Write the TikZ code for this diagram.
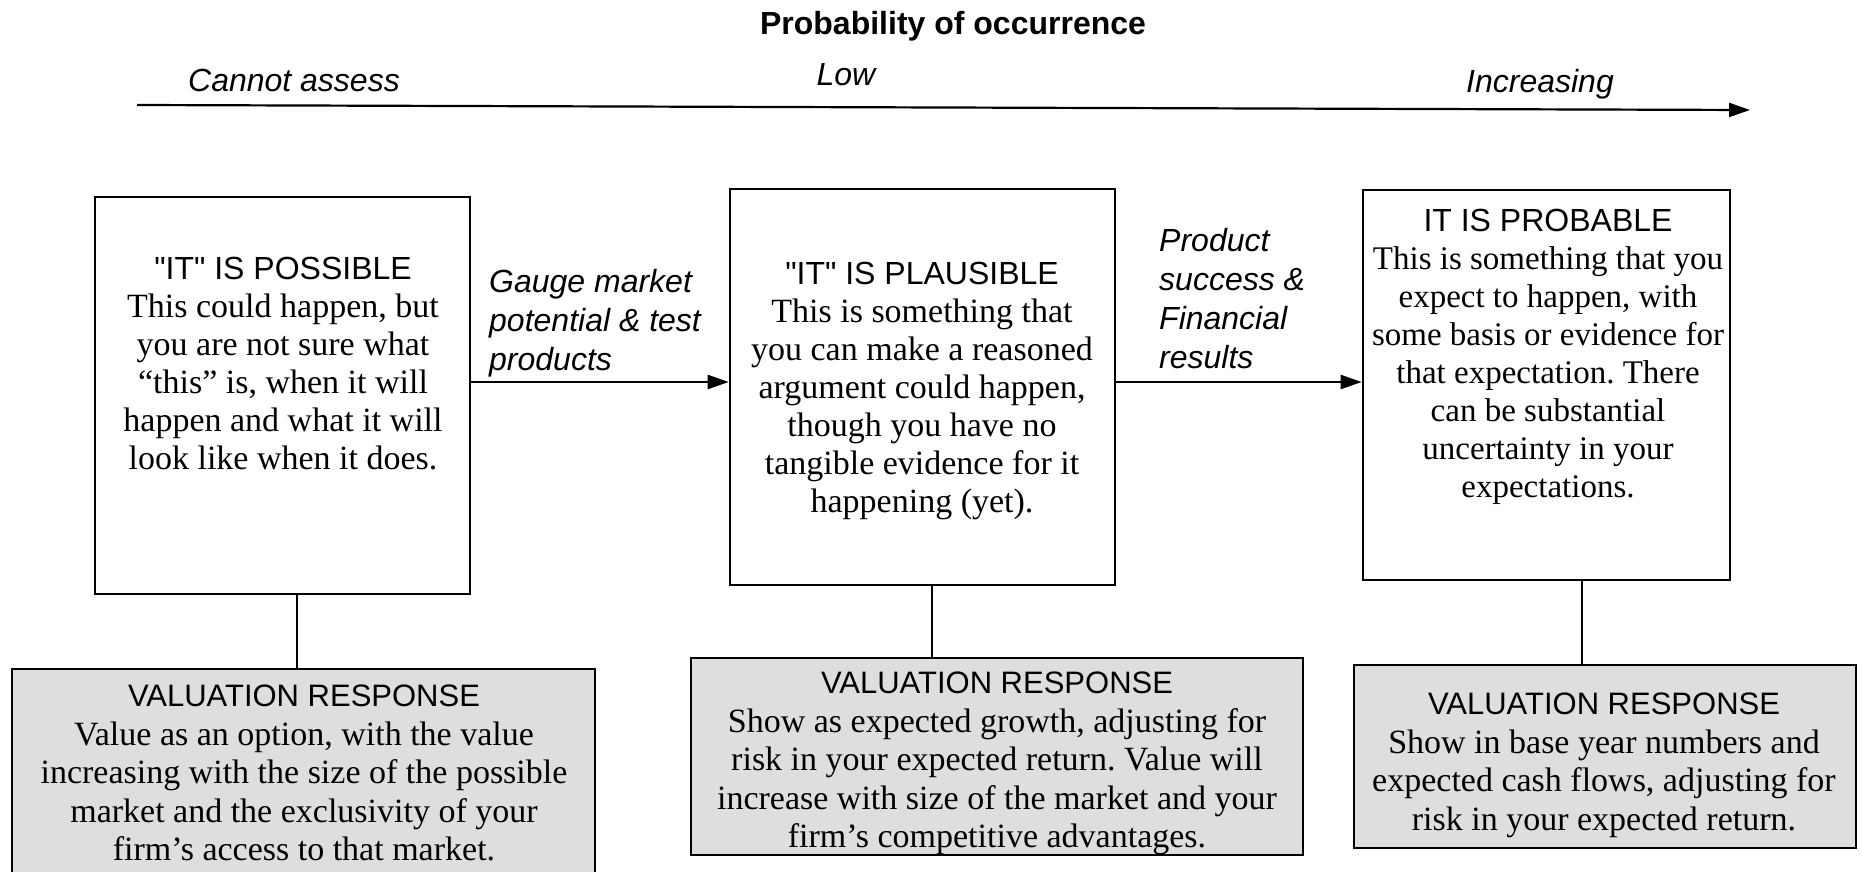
\documentclass[tikz,border=0pt]{standalone}
\usepackage{fontspec}
\setmainfont{Liberation Serif}
\setsansfont{Liberation Sans}
\usetikzlibrary{arrows.meta}
\definecolor{vrgray}{RGB}{222,222,222}
\frenchspacing
\begin{document}
\begin{tikzpicture}[x=1pt,y=-1pt,
  box/.style={draw, line width=2.6pt, inner sep=0pt},
  vr/.style={box, fill=vrgray},
  body/.style={align=center, inner sep=0pt, anchor=north, font=\fontsize{34}{38}\selectfont},
  vbody/.style={align=center, inner sep=0pt, anchor=north, font=\fontsize{34}{38.5}\selectfont},
  lab/.style={align=left, inner sep=0pt, anchor=north west, font=\sffamily\itshape\fontsize{32}{39}\selectfont},
  axislab/.style={font=\sffamily\itshape\fontsize{32}{38}\selectfont, inner sep=0pt},
  arr/.style={line width=2.2pt, -{Triangle[length=21pt,width=14pt]}},
  link/.style={line width=2.2pt}]

\useasboundingbox (0,0) rectangle (1862,872);
\clip (0,0) rectangle (1862,872);

% title and axis
\node[font=\sffamily\bfseries\fontsize{32}{38}\selectfont, inner sep=0pt] (title) at (953,26) {Probability of occurrence};
\node[axislab] (cannot) at (294,80) {Cannot assess};
\node[axislab] (low) at (846,75) {Low};
\node[axislab] (incr) at (1540,84) {Increasing};
\coordinate (axL) at (137,105);
\coordinate (axR) at (1750,110);
\draw[arr] (axL) -- (axR);

% main boxes
\node[box, minimum width=375pt, minimum height=397pt] (b1) at (282.5,395.5) {};
\node[box, minimum width=385pt, minimum height=396pt] (b2) at (922.5,387) {};
\node[box, minimum width=367pt, minimum height=390pt] (b3) at (1546.5,385) {};

\node[body] (t1) at (283,257) {{\sffamily\fontsize{32}{38}\selectfont \textquotedbl IT\textquotedbl{} IS POSSIBLE}\\
This could happen, but\\
you are not sure what\\
“this” is, when it will\\
happen and what it will\\
look like when it does.};

\node[body] (t2) at (922,262) {{\sffamily\fontsize{32}{38}\selectfont \textquotedbl IT\textquotedbl{} IS PLAUSIBLE}\\
This is something that\\
you can make a reasoned\\
argument could happen,\\
though you have no\\
tangible evidence for it\\
happening (yet).};

\node[body, font=\fontsize{33}{38}\selectfont] (t3) at (1548,209) {{\sffamily\fontsize{32}{38}\selectfont IT IS PROBABLE}\\
This is something that you\\
expect to happen, with\\
some basis or evidence for\\
that expectation. There\\
can be substantial\\
uncertainty in your\\
expectations.};

% arrows between boxes
\coordinate (r1) at (0,382);
\draw[arr] (b1.east |- r1) -- (b2.west |- r1);
\draw[arr] (b2.east |- r1) -- (b3.west |- r1);

\node[lab] (l1) at (489,269) {Gauge market\\potential \& test\\products};
\node[lab] (l2) at (1159,228) {Product\\success \&\\Financial\\results};

% valuation boxes
\node[vr, minimum width=583pt, minimum height=215pt] (v1) at (303.5,776.5) {};
\node[vr, minimum width=612pt, minimum height=197pt] (v2) at (997,756.5) {};
\node[vr, minimum width=502pt, minimum height=183pt] (v3) at (1605,756.5) {};

\node[vbody] (vt1) at (304,685) {{\sffamily\fontsize{31}{38}\selectfont VALUATION RESPONSE}\\
Value as an option, with the value\\
increasing with the size of the possible\\
market and the exclusivity of your\\
firm’s access to that market.};

\node[vbody] (vt2) at (997,672) {{\sffamily\fontsize{31}{38}\selectfont VALUATION RESPONSE}\\
Show as expected growth, adjusting for\\
risk in your expected return. Value will\\
increase with size of the market and your\\
firm’s competitive advantages.};

\node[vbody] (vt3) at (1604,693) {{\sffamily\fontsize{31}{38}\selectfont VALUATION RESPONSE}\\
Show in base year numbers and\\
expected cash flows, adjusting for\\
risk in your expected return.};

% connectors
\coordinate (k1) at (297,0);
\coordinate (k2) at (932,0);
\coordinate (k3) at (1582,0);
\draw[link] (b1.south -| k1) -- (v1.north -| k1);
\draw[link] (b2.south -| k2) -- (v2.north -| k2);
\draw[link] (b3.south -| k3) -- (v3.north -| k3);
\end{tikzpicture}
\end{document}
